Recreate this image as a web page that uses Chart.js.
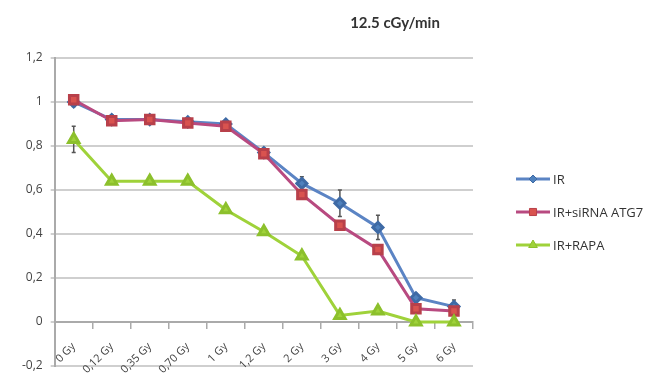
<!DOCTYPE html>
<html>
<head>
<meta charset="utf-8">
<script src="https://cdn.jsdelivr.net/npm/chart.js@4/dist/chart.umd.min.js"></script>
<style>
  html, body { margin: 0; padding: 0; background: #fff; }
  #wrap { width: 665px; height: 382px; position: relative; }
</style>
</head>
<body>
<div id="wrap"><canvas id="survival-chart"></canvas></div>
<script>
// Dose points on the x axis
const doses = ['0 Gy', '0,12 Gy', '0,35 Gy', '0,70 Gy', '1 Gy', '1,2 Gy', '2 Gy', '3 Gy', '4 Gy', '5 Gy', '6 Gy'];

// Survival fractions per condition
const irValues = [1.00, 0.92, 0.92, 0.91, 0.90, 0.77, 0.63, 0.54, 0.43, 0.11, 0.07];
const sirnaValues = [1.01, 0.915, 0.92, 0.905, 0.89, 0.765, 0.58, 0.44, 0.33, 0.06, 0.05];
const rapaValues = [0.83, 0.64, 0.64, 0.64, 0.51, 0.41, 0.30, 0.03, 0.05, 0.00, 0.00];

// Error bar half-widths
const irErrors = [0.02, 0.02, 0.02, 0.01, 0.01, 0.02, 0.03, 0.06, 0.055, 0.02, 0.03];
const sirnaErrors = [0.01, 0.01, 0.01, 0.01, 0.01, 0.01, 0.02, 0.02, 0.02, 0.01, 0.01];
const rapaErrors = [0.06, 0.01, 0.01, 0.01, 0.01, 0.01, 0.01, 0.01, 0.01, 0.01, 0.01];

const yTicks = [-0.2, 0, 0.2, 0.4, 0.6, 0.8, 1, 1.2];

const seriesNames = ['IR', 'IR+siRNA ATG7', 'IR+RAPA'];

const fmt = v => String(Math.round(v * 10) / 10).replace('.', ',');

// draws the vertical error bars under the markers
const errorBars = {
  id: 'errorBars',
  beforeDatasetsDraw(chart) {
    const ctx = chart.ctx;
    const y = chart.scales.y;
    ctx.save();
    ctx.strokeStyle = '#555';
    ctx.lineWidth = 1.5;
    chart.data.datasets.forEach((ds, i) => {
      const meta = chart.getDatasetMeta(i);
      meta.data.forEach((pt, j) => {
        const v = ds.data[j], e = ds.errors[j];
        const top = y.getPixelForValue(v + e);
        const bot = y.getPixelForValue(v - e);
        ctx.beginPath();
        ctx.moveTo(pt.x, top); ctx.lineTo(pt.x, bot);
        ctx.moveTo(pt.x - 2, top); ctx.lineTo(pt.x + 2, top);
        ctx.moveTo(pt.x - 2, bot); ctx.lineTo(pt.x + 2, bot);
        ctx.stroke();
      });
    });
    ctx.restore();
  }
};

// title and line+marker legend on the right side
const decorations = {
  id: 'decorations',
  afterDraw(chart) {
    const ctx = chart.ctx;
    ctx.save();
    ctx.fillStyle = '#333';
    ctx.font = 'bold 15px Lato, "Open Sans", sans-serif';
    ctx.textAlign = 'center';
    ctx.textBaseline = 'middle';
    ctx.fillText('12.5 cGy/min', 395, 23);

    const rows = [179, 212, 245];
    ctx.font = '13px "Open Sans", sans-serif';
    ctx.textAlign = 'left';
    chart.data.datasets.forEach((ds, i) => {
      const yy = rows[i];
      ctx.strokeStyle = ds.borderColor;
      ctx.lineWidth = 3;
      ctx.beginPath();
      ctx.moveTo(516, yy); ctx.lineTo(550, yy);
      ctx.stroke();
      ctx.fillStyle = ds.backgroundColor;
      ctx.strokeStyle = ds.pointBorderColor;
      ctx.lineWidth = 1;
      Chart.helpers.drawPoint(ctx, {
        pointStyle: ds.pointStyle,
        radius: ds.pointRadius - 1,
        borderWidth: 1
      }, 533, yy);
      ctx.fillStyle = '#333';
      ctx.fillText(seriesNames[i], 553, yy + 1);
    });
    ctx.restore();
  }
};

const ctx = document.getElementById('survival-chart').getContext('2d');

const survivalChart = new Chart(ctx, {
  type: 'line',
  data: {
    labels: doses,
    datasets: [{
      label: seriesNames[0],
      data: irValues,
      errors: irErrors,
      borderColor: '#5b84c4',
      backgroundColor: '#4f81bd',
      pointBorderColor: '#3e6aa5',
      pointStyle: 'rectRot',
      pointRadius: 5,
      borderWidth: 3,
      order: 3
    }, {
      label: seriesNames[1],
      data: sirnaValues,
      errors: sirnaErrors,
      borderColor: '#b84a80',
      backgroundColor: '#d9534f',
      pointBorderColor: '#b8404a',
      pointStyle: 'rect',
      pointRadius: 6,
      borderWidth: 3,
      order: 2
    }, {
      label: seriesNames[2],
      data: rapaValues,
      errors: rapaErrors,
      borderColor: '#9fd23a',
      backgroundColor: '#9fd23a',
      pointBorderColor: '#8cc02c',
      pointStyle: 'triangle',
      pointRadius: 6,
      borderWidth: 3,
      order: 1
    }]
  },
  options: {
    responsive: true,
    maintainAspectRatio: false,
    animation: false,
    layout: { padding: { left: 14, right: 192, top: 58, bottom: 16 } },
    plugins: {
      legend: { display: false },
      tooltip: { enabled: false },
      title: { display: false }
    },
    scales: {
      x: {
        position: { y: 0 },
        offset: true,
        grid: {
          offset: true,
          drawOnChartArea: false,
          drawTicks: true,
          tickLength: 6,
          color: '#aaa',
          lineWidth: 1.5
        },
        border: { color: '#aaa', width: 2 },
        ticks: {
          maxRotation: 45,
          minRotation: 45,
          padding: 12,
          color: '#444',
          font: { size: 11, family: '"Open Sans", sans-serif' }
        }
      },
      y: {
        min: -0.2,
        max: 1.2,
        afterBuildTicks: axis => { axis.ticks = yTicks.map(v => ({ value: v })); },
        grid: {
          color: '#cfcfcf',
          lineWidth: 2,
          tickLength: 4
        },
        border: { color: '#aaa', width: 2 },
        ticks: {
          padding: 8,
          color: '#444',
          font: { size: 12, family: '"Open Sans", sans-serif' },
          callback: v => fmt(v)
        }
      }
    }
  },
  plugins: [errorBars, decorations]
});
</script>
</body>
</html>
